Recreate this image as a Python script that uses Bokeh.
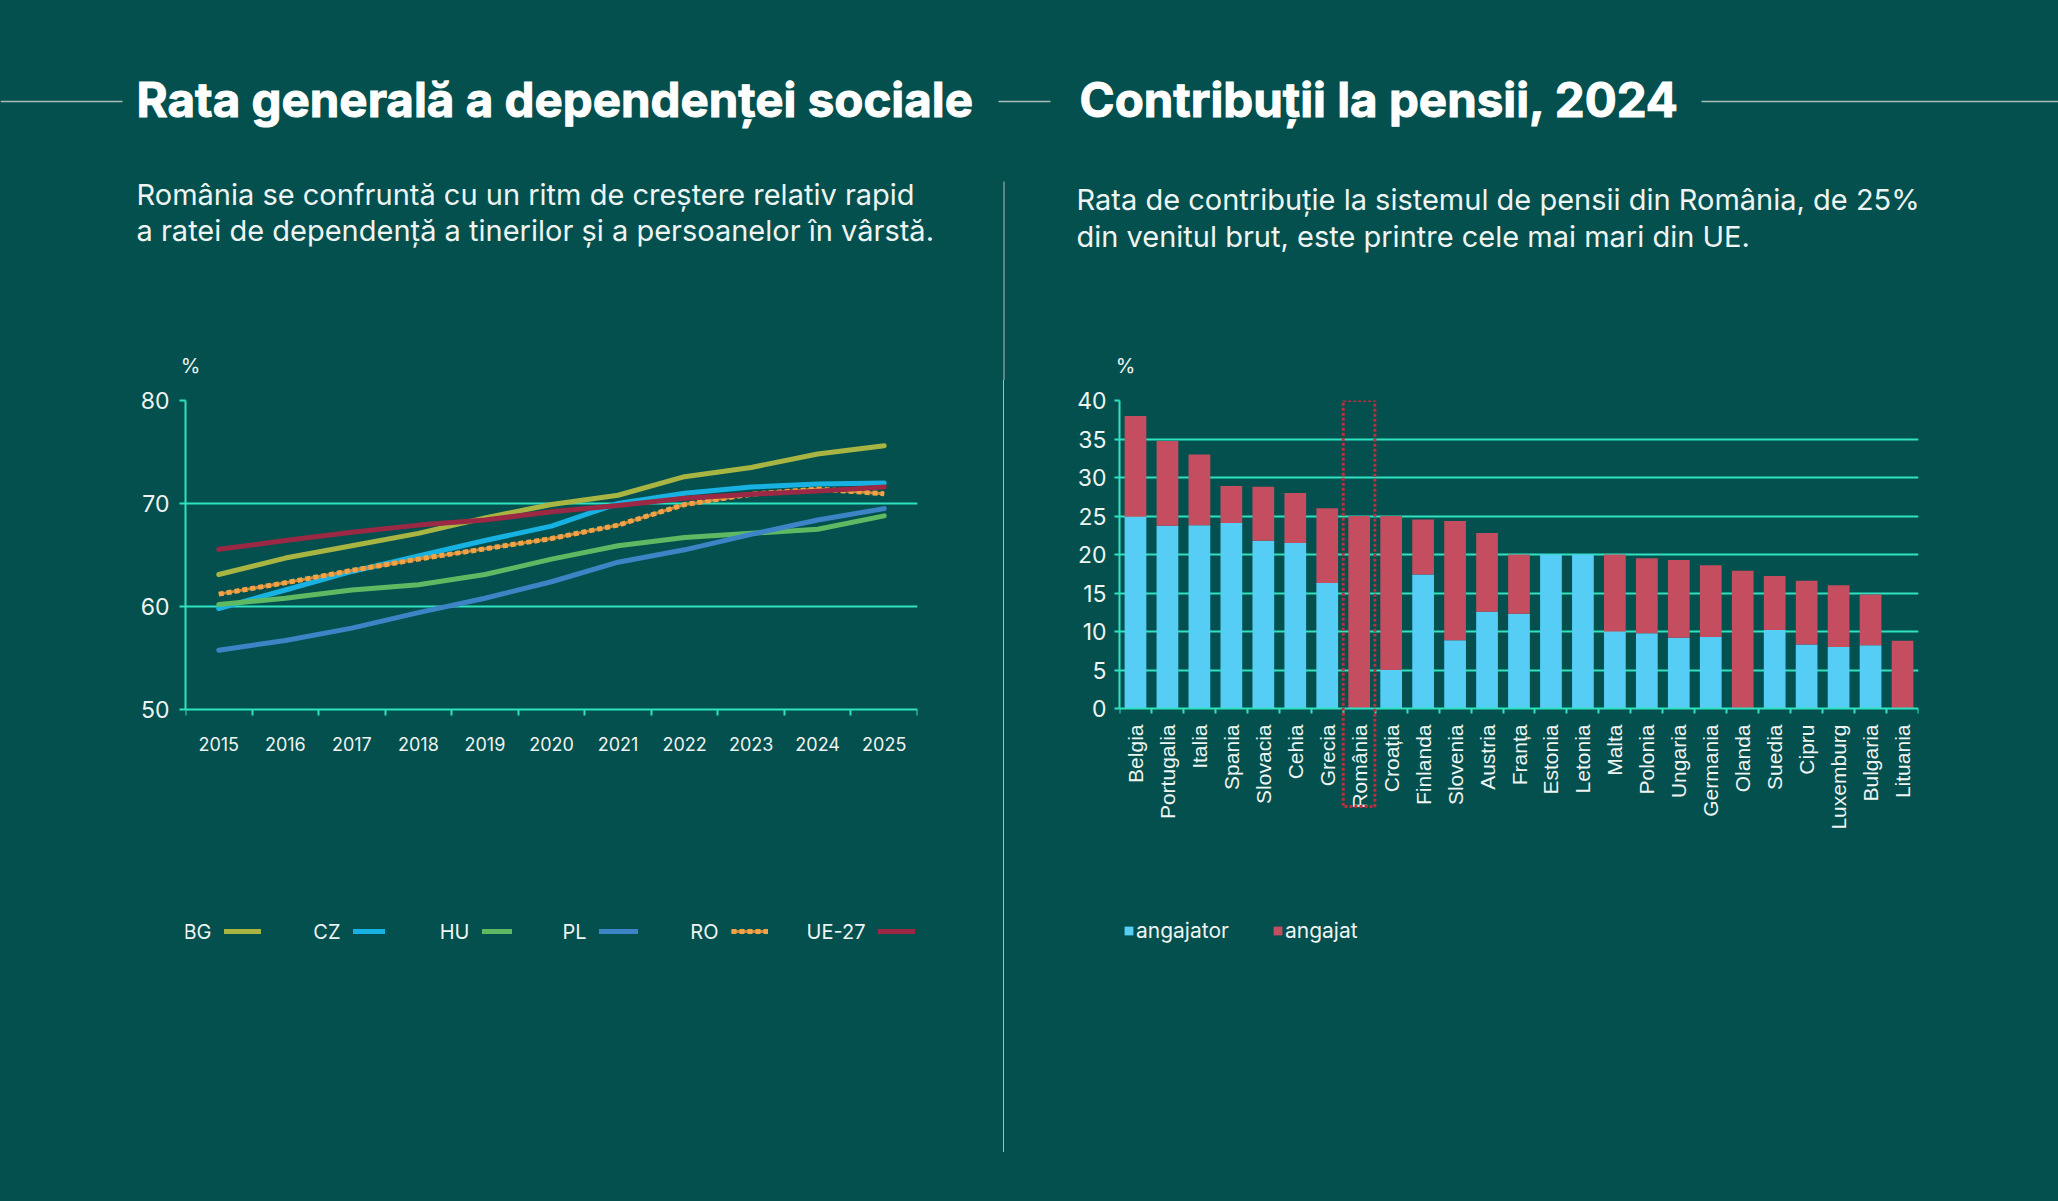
import math
from bokeh.plotting import figure
from bokeh.layouts import column, row
from bokeh.models import (Range1d, FixedTicker, Legend, LegendItem, BoxAnnotation, Div,
                          ColumnDataSource, Label)
from bokeh.core.properties import value
from bokeh.embed import file_html
from bokeh.resources import INLINE

# ---- palette -------------------------------------------------------------
PAGE = "#03504e"
RULE = "#30e2c0"
INK = "#ffffff"
SOFT = "#eef4f2"
THIN = "#a9bdb9"
BLUE_BAR = "#55cdf5"
RED_BAR = "#c44d5f"
BOX_RED = "#bb2f3c"

# ---- dependency ratio, % -------------------------------------------------
years = [2015, 2016, 2017, 2018, 2019, 2020, 2021, 2022, 2023, 2024, 2025]
bg = [63.1, 64.7, 65.9, 67.1, 68.6, 69.9, 70.8, 72.6, 73.5, 74.8, 75.6]
cz = [59.8, 61.6, 63.4, 64.9, 66.4, 67.8, 70.0, 71.0, 71.6, 71.9, 72.0]
hu = [60.2, 60.8, 61.6, 62.1, 63.1, 64.6, 65.9, 66.7, 67.1, 67.5, 68.8]
pl = [55.75, 56.7, 57.9, 59.4, 60.8, 62.4, 64.3, 65.5, 67.0, 68.4, 69.5]
ro = [61.2, 62.3, 63.5, 64.6, 65.6, 66.6, 67.9, 69.9, 70.9, 71.4, 70.95]
ue27 = [65.55, 66.4, 67.2, 67.9, 68.4, 69.2, 69.8, 70.5, 70.9, 71.2, 71.6]
dep_ticks = [50, 60, 70, 80]

# ---- pension contribution rates 2024, % of gross income -------------------
countries = ["Belgia", "Portugalia", "Italia", "Spania", "Slovacia", "Cehia", "Grecia",
             "România", "Croația", "Finlanda", "Slovenia", "Austria", "Franța", "Estonia",
             "Letonia", "Malta", "Polonia", "Ungaria", "Germania", "Olanda", "Suedia",
             "Cipru", "Luxemburg", "Bulgaria", "Lituania"]
angajator = [24.9, 23.75, 23.8, 24.1, 21.8, 21.5, 16.3, 0.0, 5.0, 17.4, 8.85, 12.55, 12.3,
             20.0, 20.0, 10.0, 9.76, 9.2, 9.3, 0.0, 10.2, 8.3, 8.0, 8.2, 0.0]
angajat = [13.1, 11.0, 9.2, 4.8, 7.0, 6.5, 9.7, 25.0, 20.0, 7.15, 15.5, 10.25, 7.7,
           0.0, 0.0, 10.0, 9.76, 10.1, 9.3, 17.9, 7.0, 8.3, 8.0, 6.6, 8.8]
rate_ticks = [0, 5, 10, 15, 20, 25, 30, 35, 40]
highlight = "România"

# ---- page geometry (pixels from the top-left corner) ----------------------
W, H, HEAD = 2058, 1201, 380
BODY = H - HEAD
LEFT_W = 1003
RIGHT_W = W - LEFT_W - 1
PLOT_TOP_L, PLOT_TOP_R, AXIS_Y = 398, 400, 708     # top gridline / baseline
FRAME_BOTTOM = 990                                  # plot frames reach down to the legends
LEGEND_Y = 931
BOX_BOTTOM = 806
L_LEFT, L_RIGHT = 185, 917

FONT = "Inter"

# ---- header: titles, rules, intro texts -----------------------------------
head = figure(width=W, height=HEAD, x_range=Range1d(0, W), y_range=Range1d(HEAD, 0),
              x_axis_type=None, y_axis_type=None, toolbar_location=None,
              output_backend="svg", min_border=0, background_fill_color=PAGE,
              border_fill_color=PAGE, outline_line_color=None)
head.grid.visible = False
head.segment(x0=[0, 998, 1701], y0=[101, 101, 101], x1=[122, 1050, W], y1=[101, 101, 101],
             line_color=THIN, line_width=1.3)
head.segment(x0=[1003.5], y0=[181], x1=[1003.5], y1=[HEAD], line_color=THIN, line_width=1)
head.text(x=[136, 1079], y=[99, 99],
          text=["Rata generală a dependenței sociale", "Contribuții la pensii, 2024"],
          text_font=value(FONT), text_font_style="bold", text_font_size="47.5px",
          text_color=INK, text_outline_color=INK, text_baseline="middle", text_align="left")
head.text(x=[136, 136, 1076, 1076], y=[194, 230, 199, 236],
          text=["România se confruntă cu un ritm de creștere relativ rapid",
                "a ratei de dependență a tinerilor și a persoanelor în vârstă.",
                "Rata de contribuție la sistemul de pensii din România, de 25%",
                "din venitul brut, este printre cele mai mari din UE."],
          text_font=value(FONT), text_font_size="29px", text_color=SOFT,
          text_baseline="middle", text_align="left")
head.text(x=[190, 1125], y=[365, 365], text=["%", "%"], text_font=value(FONT),
          text_font_size="20px", text_color=SOFT, text_baseline="middle", text_align="center")


def style_axes(p, base, top):
    for ax in (p.xaxis[0], p.yaxis[0]):
        ax.axis_line_color = RULE
        ax.axis_line_width = 2
        ax.major_tick_line_color = RULE
        ax.major_tick_line_width = 2
        ax.minor_tick_line_color = RULE
        ax.minor_tick_line_width = 2
        ax.major_label_text_color = SOFT
    p.xaxis.fixed_location = base
    p.yaxis.bounds = (base, top)
    p.xgrid.visible = False
    p.ygrid.grid_line_color = RULE
    p.ygrid.grid_line_width = 2


def chart(width, left, right, top_px, base, top):
    # the frame runs from the top gridline down to FRAME_BOTTOM; the range is
    # stretched below the baseline so the baseline lands on AXIS_Y
    px_per_unit = (AXIS_Y - top_px) / (top - base)
    y0 = base - (FRAME_BOTTOM - AXIS_Y) / px_per_unit
    return figure(width=width, height=BODY, y_range=Range1d(y0, top), toolbar_location=None,
                  output_backend="svg", min_border_left=left, min_border_right=right,
                  min_border_top=top_px - HEAD, min_border_bottom=H - FRAME_BOTTOM,
                  background_fill_color=PAGE, border_fill_color=PAGE,
                  outline_line_color=None)


LEG_H = 24
leg_vy = FRAME_BOTTOM - (LEGEND_Y - LEG_H / 2) - LEG_H
leg_label_y = FRAME_BOTTOM - LEGEND_Y

# ---- left: dependency ratio lines -----------------------------------------
lc = chart(LEFT_W, L_LEFT, LEFT_W - L_RIGHT, PLOT_TOP_L, dep_ticks[0], dep_ticks[-1])
lc.x_range = Range1d(years[0] - 0.5, years[-1] + 0.5)
style_axes(lc, dep_ticks[0], dep_ticks[-1])
lc.xaxis.ticker = FixedTicker(ticks=years, minor_ticks=[y - 0.5 for y in years] + [years[-1] + 0.5])
lc.xaxis.major_tick_out = 0
lc.xaxis.major_tick_in = 0
lc.xaxis.minor_tick_out = 6
lc.xaxis.minor_tick_in = 0
lc.xaxis.major_label_standoff = 22
lc.xaxis.major_label_text_font = FONT
lc.xaxis.major_label_text_font_size = "18px"
lc.yaxis.ticker = FixedTicker(ticks=dep_ticks)
lc.yaxis.major_tick_out = 6
lc.yaxis.major_tick_in = 0
lc.yaxis.major_label_standoff = 10
lc.yaxis.major_label_text_font = FONT
lc.yaxis.major_label_text_font_size = "23px"
lc.ygrid.ticker = FixedTicker(ticks=dep_ticks[1:])

line_kw = dict(line_width=5, line_cap="round", line_join="round")
r_bg = lc.line(years, bg, line_color="#a9b543", **line_kw)
r_cz = lc.line(years, cz, line_color="#17b2e2", **line_kw)
r_hu = lc.line(years, hu, line_color="#5dba63", **line_kw)
r_pl = lc.line(years, pl, line_color="#3c84c5", **line_kw)
r_ro_base = lc.line(years, ro, line_color="#c98a3c", line_width=3, line_join="round")
r_ro = lc.line(years, ro, line_color="#f3a246", line_width=5, line_dash="5 3", line_join="round")
r_ue = lc.line(years, ue27, line_color="#9b2844", **line_kw)

# legend: series name first, then a short line sample (start x, length in px)
dep_keys = [
    ("BG", [r_bg], 224, 37),
    ("CZ", [r_cz], 353, 32),
    ("HU", [r_hu], 482, 30),
    ("PL", [r_pl], 599, 39),
    ("RO", [r_ro_base, r_ro], 731, 37),
    ("UE-27", [r_ue], 878, 37),
]
for name, rends, gx, gw in dep_keys:
    lc.add_layout(Legend(items=[LegendItem(label="", renderers=rends)],
                         location=(gx - L_LEFT, leg_vy), glyph_width=gw, glyph_height=LEG_H,
                         label_height=LEG_H, label_width=0, label_standoff=0,
                         padding=0, margin=0, background_fill_alpha=0, border_line_alpha=0))
    lc.add_layout(Label(x=gx - L_LEFT - 13, y=leg_label_y, x_units="screen", y_units="screen",
                        text=name, text_align="right", text_baseline="middle",
                        text_font=FONT, text_font_size="20px", text_color=SOFT))

# ---- divider ----------------------------------------------------------------
divider = Div(width=1, height=BODY, margin=0,
              text=f'<div style="width:1px;height:{1152 - HEAD}px;background:{THIN}"></div>',
              styles={"background-color": PAGE})

# ---- right: stacked contribution bars ---------------------------------------
idx = list(range(len(countries)))
src = ColumnDataSource(dict(idx=idx, country=countries, angajator=angajator, angajat=angajat))
R_LEFT = 1119 - (LEFT_W + 1)
R_RIGHT = W - 1918
rc = chart(RIGHT_W, R_LEFT, R_RIGHT, PLOT_TOP_R, rate_ticks[0], rate_ticks[-1])
rc.x_range = Range1d(-0.5, len(countries) - 0.5)
style_axes(rc, rate_ticks[0], rate_ticks[-1])
rc.xaxis.ticker = FixedTicker(ticks=idx, minor_ticks=[i - 0.5 for i in idx] + [idx[-1] + 0.5])
rc.xaxis.major_label_overrides = {i: c for i, c in zip(idx, countries)}
rc.xaxis.major_label_orientation = math.pi / 2
rc.xaxis.major_tick_out = 0
rc.xaxis.major_tick_in = 0
rc.xaxis.minor_tick_out = 5
rc.xaxis.minor_tick_in = 0
rc.xaxis.major_label_standoff = 11
rc.xaxis.major_label_text_font = "Liberation Sans"
rc.xaxis.major_label_text_font_size = "21px"
rc.yaxis.ticker = FixedTicker(ticks=rate_ticks)
rc.yaxis.major_tick_out = 5
rc.yaxis.major_tick_in = 0
rc.yaxis.major_label_standoff = 8
rc.yaxis.major_label_text_font = FONT
rc.yaxis.major_label_text_font_size = "23px"
rc.ygrid.ticker = FixedTicker(ticks=rate_ticks[1:])

bars = rc.vbar_stack(["angajator", "angajat"], x="idx", width=0.68, source=src,
                     color=[BLUE_BAR, RED_BAR], line_width=0)

# dotted frame around the highlighted country's column and its label
rate_px = (AXIS_Y - PLOT_TOP_R) / (rate_ticks[-1] - rate_ticks[0])
hi = countries.index(highlight)
rc.add_layout(BoxAnnotation(left=hi - 0.5, right=hi + 0.49, top=rate_ticks[-1],
                            bottom=rate_ticks[0] - (BOX_BOTTOM - AXIS_Y) / rate_px,
                            fill_alpha=0, line_color=BOX_RED, line_alpha=1, line_width=3,
                            line_dash="3 2"))

rate_legend = Legend(items=[
    LegendItem(label="angajator", renderers=[bars[0]]),
    LegendItem(label="angajat", renderers=[bars[1]]),
], orientation="horizontal", location=(4, leg_vy), glyph_width=11, glyph_height=11,
    label_height=LEG_H, label_standoff=2, label_width=120, spacing=16, padding=0, margin=0,
    background_fill_alpha=0, border_line_alpha=0, label_text_color=SOFT,
    label_text_font=FONT, label_text_font_size="21px")
rc.add_layout(rate_legend)

page = column(head, row(lc, divider, rc, spacing=0), spacing=0,
              styles={"background-color": PAGE})

with open("out.html", "w") as f:
    f.write(file_html(page, INLINE))
